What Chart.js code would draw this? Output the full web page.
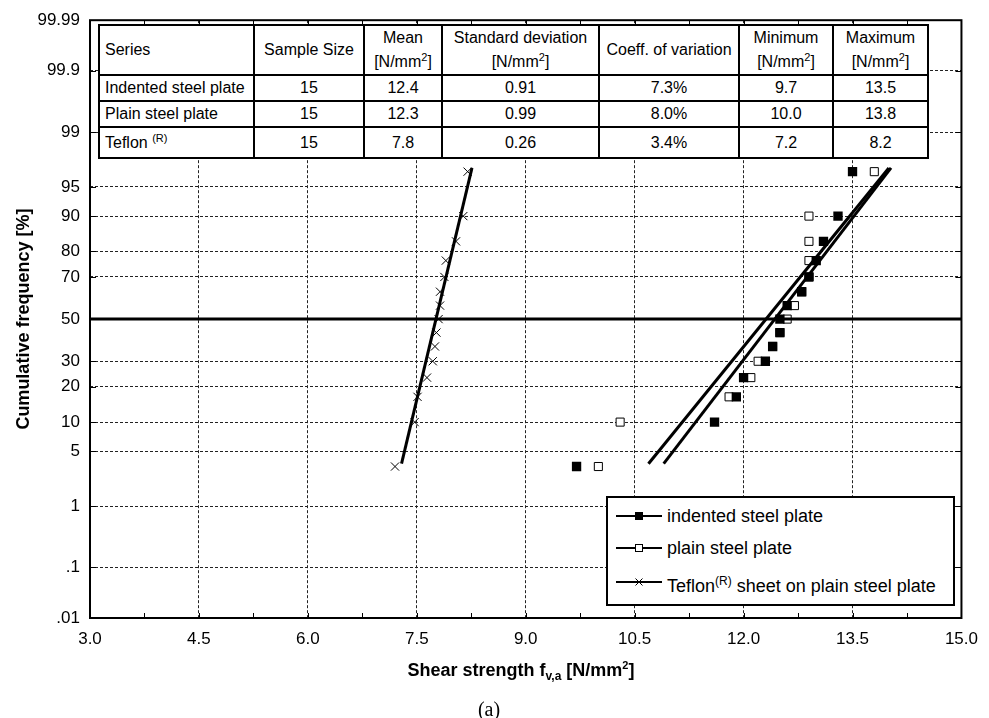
<!DOCTYPE html>
<html>
<head>
<meta charset="utf-8">
<script src="https://cdn.jsdelivr.net/npm/chart.js@4.4.1/dist/chart.umd.min.js"></script>
<style>
body { margin: 0; background: #fff; font-family: "Liberation Sans", Arial, sans-serif; color: #000; }
#wrap { position: relative; width: 989px; height: 718px; }
#stats { position: absolute; left: 98px; top: 24px; width: 831px; border-collapse: collapse; table-layout: fixed; background: #fff; font-size: 16px; }
#stats td { border: 2px solid #000; padding: 0 5px; white-space: nowrap; text-align: center; line-height: 24px; overflow: hidden; }
#stats td:first-child { text-align: left; }
sup { font-size: 11px; vertical-align: 6px; line-height: 0; }
sub { font-size: 12px; vertical-align: -4px; line-height: 0; }
#legend { position: absolute; left: 606px; top: 496px; width: 349px; height: 110px; box-sizing: border-box; border: 2px solid #000; background: #fff; }
#legend .row { position: absolute; left: 8px; height: 24px; display: flex; align-items: center; font-size: 18px; white-space: nowrap; }
#legend .row svg { margin-right: 5px; }
#legend sup { font-size: 12px; vertical-align: 7px; }
#xtitle { position: absolute; left: 321px; width: 400px; top: 659px; text-align: center; font-weight: bold; font-size: 18px; line-height: 22px; }
#xtitle sup { vertical-align: 7px; }
#caption { position: absolute; left: 439px; width: 100px; top: 698px; text-align: center; font-family: "Liberation Serif", "Times New Roman", serif; font-size: 20px; line-height: 22px; }
</style>
</head>
<body>
<div id="wrap">
  <canvas id="probit-chart" width="989" height="718"></canvas>
  <table id="stats"></table>
  <div id="legend"></div>
  <div id="xtitle">Shear strength f<sub>v,a</sub> [N/mm<sup>2</sup>]</div>
  <div id="caption">(a)</div>
</div>
<script>
// cumulative frequency of each ranked test, in %
const cumFreq = [3.33, 10, 16.67, 23.33, 30, 36.67, 43.33, 50, 56.67, 63.33, 70, 76.67, 83.33, 90, 96.67];
// shear strength, ranked, N/mm2
const indented = [9.7, 11.6, 11.9, 12.0, 12.3, 12.4, 12.5, 12.5, 12.6, 12.8, 12.9, 13.0, 13.1, 13.3, 13.5];
const plain = [10.0, 10.3, 11.8, 12.1, 12.2, 12.4, 12.5, 12.6, 12.7, 12.8, 12.9, 12.9, 12.9, 12.9, 13.8];
const teflon = [7.2, 7.47, 7.51, 7.64, 7.72, 7.75, 7.77, 7.80, 7.82, 7.82, 7.88, 7.90, 8.04, 8.14, 8.2];

// fitted normal lines, end points
const fitFreq = [3.6, 97.0];
const indentedFit = [10.90, 14.03];
const plainFit = [10.69, 14.0];
const teflonFit = [7.29, 8.26];

const seriesLabels = ['indented steel plate', 'plain steel plate', 'Teflon<sup>(R)</sup> sheet on plain steel plate'];

const yTickValues = [0.01, 0.1, 1, 5, 10, 20, 30, 50, 70, 80, 90, 95, 99, 99.9, 99.99];
const yTickLabels = ['.01', '.1', '1', '5', '10', '20', '30', '50', '70', '80', '90', '95', '99', '99.9', '99.99'];
const xMin = 3.0, xMax = 15.0, xStep = 1.5;

const tableHead = ['Series', 'Sample Size', 'Mean<br>[N/mm<sup>2</sup>]', 'Standard deviation<br>[N/mm<sup>2</sup>]',
    'Coeff. of variation', 'Minimum<br>[N/mm<sup>2</sup>]', 'Maximum<br>[N/mm<sup>2</sup>]'];
const tableRows = [
    ['Indented steel plate', '15', '12.4', '0.91', '7.3%', '9.7', '13.5'],
    ['Plain steel plate', '15', '12.3', '0.99', '8.0%', '10.0', '13.8'],
    ['Teflon <sup>(R)</sup>', '15', '7.8', '0.26', '3.4%', '7.2', '8.2']
];
const colWidths = [155, 110, 78, 157, 140, 94, 95];
const rowHeights = [49, 24, 23, 31];

// inverse of the standard normal cdf (Acklam)
function probit(p) {
    const a = [-39.69683028665376, 220.9460984245205, -275.9285104469687, 138.3577518672690, -30.66479806614716, 2.506628277459239];
    const b = [-54.47609879822406, 161.5858368580409, -155.6989798598866, 66.80131188771972, -13.28068155288572];
    const c = [-0.007784894002430293, -0.3223964580411365, -2.400758277161838, -2.549732539343734, 4.374664141464968, 2.938163982698783];
    const d = [0.007784695709041462, 0.3224671290700398, 2.445134137142996, 3.754408661907416];
    const pl = 0.02425;
    let q, r;
    if (p < pl) {
        q = Math.sqrt(-2 * Math.log(p));
        return (((((c[0] * q + c[1]) * q + c[2]) * q + c[3]) * q + c[4]) * q + c[5]) / ((((d[0] * q + d[1]) * q + d[2]) * q + d[3]) * q + 1);
    }
    if (p > 1 - pl) {
        q = Math.sqrt(-2 * Math.log(1 - p));
        return -(((((c[0] * q + c[1]) * q + c[2]) * q + c[3]) * q + c[4]) * q + c[5]) / ((((d[0] * q + d[1]) * q + d[2]) * q + d[3]) * q + 1);
    }
    q = p - 0.5;
    r = q * q;
    return (((((a[0] * r + a[1]) * r + a[2]) * r + a[3]) * r + a[4]) * r + a[5]) * q / (((((b[0] * r + b[1]) * r + b[2]) * r + b[3]) * r + b[4]) * r + 1);
}

function toPoints(xs, freqs) {
    return xs.map((v, i) => ({ x: v, y: probit(freqs[i] / 100) }));
}

function buildTable() {
    const tbl = document.getElementById('stats');
    let html = '<colgroup>' + colWidths.map(w => '<col style="width:' + w + 'px">').join('') + '</colgroup>';
    html += '<tr style="height:' + rowHeights[0] + 'px">' + tableHead.map(t => '<td>' + t + '</td>').join('') + '</tr>';
    tableRows.forEach((row, i) => {
        html += '<tr style="height:' + rowHeights[i + 1] + 'px">' + row.map(t => '<td>' + t + '</td>').join('') + '</tr>';
    });
    tbl.innerHTML = html;
}

function buildLegend() {
    const symbols = [
        '<rect x="19" y="2" width="8" height="8" fill="#000"/>',
        '<rect x="19.5" y="2.5" width="7" height="7" fill="#fff" stroke="#000" stroke-width="1"/>',
        '<path d="M19.5 2.5 L26.5 9.5 M19.5 9.5 L26.5 2.5" stroke="#000" stroke-width="1"/>'
    ];
    const tops = [6, 38, 72];
    let html = '';
    seriesLabels.forEach((label, i) => {
        html += '<div class="row" style="top:' + tops[i] + 'px">' +
            '<svg width="46" height="12"><line x1="0" y1="6" x2="46" y2="6" stroke="#000" stroke-width="2"/>' + symbols[i] + '</svg>' +
            '<span style="position:relative;top:' + (i === 2 ? 4 : 0) + 'px">' + label + '</span></div>';
    });
    document.getElementById('legend').innerHTML = html;
}

const framePlugin = {
    id: 'frame',
    afterDatasetsDraw(chart) {
        const { ctx, chartArea: a, scales: { x, y } } = chart;
        ctx.save();
        ctx.strokeStyle = '#000';
        ctx.lineWidth = 1;
        ctx.beginPath();
        for (let v = xMin; v <= xMax + 1e-9; v += xStep / 2) {
            const px = Math.round(x.getPixelForValue(v)) + 0.5;
            ctx.moveTo(px, a.bottom); ctx.lineTo(px, a.bottom - 5);
            ctx.moveTo(px, a.top); ctx.lineTo(px, a.top + 5);
        }
        y.ticks.forEach(t => {
            const py = Math.round(y.getPixelForValue(t.value)) + 0.5;
            ctx.moveTo(a.left, py); ctx.lineTo(a.left + 6, py);
            ctx.moveTo(a.right, py); ctx.lineTo(a.right - 6, py);
        });
        ctx.stroke();
        ctx.lineWidth = 2;
        ctx.strokeRect(a.left, a.top, a.right - a.left, a.bottom - a.top);
        ctx.restore();
    }
};

const fitLine = (label, xs) => ({
    label: label,
    data: toPoints(xs, fitFreq),
    showLine: true,
    borderColor: '#000',
    borderWidth: 3,
    pointRadius: 0,
    order: 0
});

const data = {
    datasets: [
        {
            label: 'indented steel plate',
            data: toPoints(indented, cumFreq),
            pointStyle: 'rect',
            pointRadius: 6.6,
            borderWidth: 0,
            backgroundColor: '#000',
            borderColor: '#000',
            order: 1
        },
        {
            label: 'plain steel plate',
            data: toPoints(plain, cumFreq),
            pointStyle: 'rect',
            pointRadius: 5.7,
            borderWidth: 1,
            backgroundColor: '#fff',
            borderColor: '#000',
            order: 1
        },
        {
            label: 'Teflon sheet on plain steel plate',
            data: toPoints(teflon, cumFreq),
            pointStyle: 'crossRot',
            pointRadius: 5.8,
            borderWidth: 1,
            borderColor: '#000',
            order: 1
        },
        fitLine('indented fit', indentedFit),
        fitLine('plain fit', plainFit),
        fitLine('teflon fit', teflonFit),
        {
            label: '50 %',
            data: toPoints([xMin, xMax], [50, 50]),
            showLine: true,
            borderColor: '#000',
            borderWidth: 3,
            pointRadius: 0,
            order: 0
        }
    ]
};

const config = {
    type: 'scatter',
    data: data,
    options: {
        responsive: false,
        animation: false,
        layout: {
            padding: { top: 17, right: 24, left: 0, bottom: 0 }
        },
        scales: {
            x: {
                type: 'linear',
                min: xMin,
                max: xMax,
                afterFit: (s) => { s.height = 100; },
                ticks: {
                    stepSize: xStep,
                    callback: (v) => v.toFixed(1),
                    color: '#000',
                    padding: 11,
                    font: { family: '"Liberation Sans", Arial, sans-serif', size: 17 }
                },
                grid: { color: '#222', lineWidth: 1, drawTicks: false },
                border: { display: false, dash: [3, 2] }
            },
            y: {
                type: 'linear',
                min: probit(yTickValues[0] / 100),
                max: probit(yTickValues[yTickValues.length - 1] / 100),
                afterFit: (s) => { s.width = 90; },
                afterBuildTicks: (s) => {
                    s.ticks = yTickValues.map(p => ({ value: probit(p / 100) }));
                },
                ticks: {
                    autoSkip: false,
                    callback: (v, i) => yTickLabels[i],
                    color: '#000',
                    padding: 10,
                    font: { family: '"Liberation Sans", Arial, sans-serif', size: 17 }
                },
                grid: { color: '#222', lineWidth: 1, drawTicks: false },
                border: { display: false, dash: [3, 2] },
                title: {
                    display: true,
                    text: 'Cumulative frequency [%]',
                    color: '#000',
                    padding: { top: 13, bottom: 0 },
                    font: { family: '"Liberation Sans", Arial, sans-serif', size: 18, weight: 'bold' }
                }
            }
        },
        plugins: {
            legend: { display: false },
            tooltip: { enabled: false }
        }
    },
    plugins: [framePlugin]
};

buildTable();
buildLegend();
const probitChart = new Chart(document.getElementById('probit-chart'), config);
</script>
</body>
</html>
